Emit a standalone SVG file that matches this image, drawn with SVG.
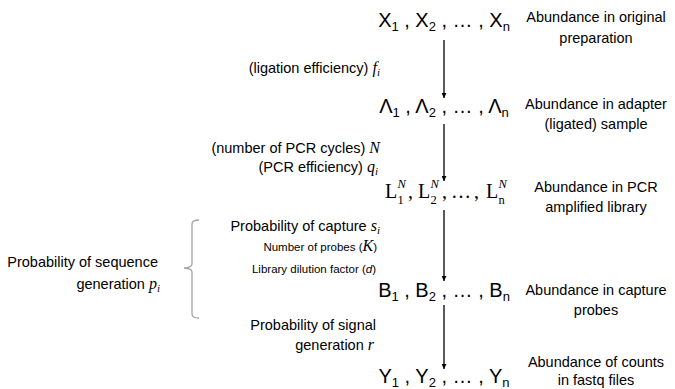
<svg xmlns="http://www.w3.org/2000/svg" width="675" height="389" viewBox="0 0 675 389">
<style>
text{font-family:"Liberation Sans",Arial,sans-serif;fill:#000}
.m{font-size:20px}
.sb{font-size:13px}
.lr{font-family:"Liberation Serif","Times New Roman",serif;font-size:20px}
.lsub{font-family:"Liberation Serif","Times New Roman",serif;font-size:12.5px}
.lsup{font-family:"Liberation Serif","Times New Roman",serif;font-size:12.5px;font-style:italic}
.r{font-size:14.5px;text-anchor:middle}
.l{font-size:14.5px;text-anchor:end}
.s{font-size:11.5px;text-anchor:end}
.mi{font-family:"Liberation Serif","Times New Roman",serif;font-style:italic;font-size:16px}
.mis{font-family:"Liberation Serif","Times New Roman",serif;font-style:italic;font-size:11px}
.arr{stroke:#000;stroke-width:1.3;fill:none;marker-end:url(#ah)}
.br{stroke:#a6a6a6;stroke-width:1.3;fill:none}
</style>
<defs>
<marker id="ah" viewBox="0 0 10 10" refX="10" refY="5" markerWidth="5" markerHeight="5" orient="auto" markerUnits="userSpaceOnUse">
<path d="M0,0 L10,5 L0,10 z" fill="#000"/>
</marker>
</defs>
<g id="connectors">
<line class="arr" x1="444" y1="40" x2="444" y2="98"/>
<line class="arr" x1="444" y1="124" x2="444" y2="181"/>
<line class="arr" x1="444" y1="210" x2="444" y2="281"/>
<line class="arr" x1="444" y1="305" x2="444" y2="369"/>
</g>
<g id="brace">
<path class="br" d="M199,220 Q192,220 192,224 L192,264 Q192,267.5 184,268 Q192,268.5 192,272 L192,314 Q192,318 199,318"/>
</g>
<g id="node-x">
<text class="m" x="444" y="27" text-anchor="middle">X<tspan class="sb" dy="4">1</tspan><tspan dy="-4"> , X</tspan><tspan class="sb" dy="4">2</tspan><tspan dy="-4"> , … , X</tspan><tspan class="sb" dy="4">n</tspan></text>
<text class="r" x="596" y="22">Abundance in original</text>
<text class="r" x="596" y="43">preparation</text>
</g>
<g id="node-lambda">
<text class="m" x="444" y="113" text-anchor="middle">Λ<tspan class="sb" dy="4">1</tspan><tspan dy="-4"> , Λ</tspan><tspan class="sb" dy="4">2</tspan><tspan dy="-4"> , … , Λ</tspan><tspan class="sb" dy="4">n</tspan></text>
<text class="r" x="596" y="109">Abundance in adapter</text>
<text class="r" x="596" y="129">(ligated) sample</text>
</g>
<g id="node-l">
<text class="lr" x="385" y="198">L</text>
<text class="lsup" x="397.5" y="187.5">N</text>
<text class="lsub" x="397.5" y="203.5">1</text>
<text class="lr" x="408" y="198">,</text>
<text class="lr" x="418" y="198">L</text>
<text class="lsup" x="430.5" y="187.5">N</text>
<text class="lsub" x="430.5" y="203.5">2</text>
<text class="lr" x="442" y="198">,</text>
<text class="lr" x="451" y="198">…</text>
<text class="lr" x="474" y="198">,</text>
<text class="lr" x="486" y="198">L</text>
<text class="lsup" x="498.5" y="187.5">N</text>
<text class="lsub" x="498.5" y="203.5">n</text>
<text class="r" x="596" y="192">Abundance in PCR</text>
<text class="r" x="596" y="212">amplified library</text>
</g>
<g id="node-b">
<text class="m" x="444" y="297" text-anchor="middle">B<tspan class="sb" dy="4">1</tspan><tspan dy="-4"> , B</tspan><tspan class="sb" dy="4">2</tspan><tspan dy="-4"> , … , B</tspan><tspan class="sb" dy="4">n</tspan></text>
<text class="r" x="596" y="295">Abundance in capture</text>
<text class="r" x="596" y="315">probes</text>
</g>
<g id="node-y">
<text class="m" x="444" y="383" text-anchor="middle">Y<tspan class="sb" dy="4">1</tspan><tspan dy="-4"> , Y</tspan><tspan class="sb" dy="4">2</tspan><tspan dy="-4"> , … , Y</tspan><tspan class="sb" dy="4">n</tspan></text>
<text class="r" x="596" y="367">Abundance of counts</text>
<text class="r" x="596" y="385">in fastq files</text>
</g>
<g id="label-ligation">
<text class="l" x="380" y="73">(ligation efficiency) <tspan class="mi">f</tspan><tspan class="mis" dy="3">i</tspan></text>
</g>
<g id="label-pcr">
<text class="l" x="380" y="153">(number of PCR cycles) <tspan class="mi">N</tspan></text>
<text class="l" x="378" y="172">(PCR efficiency) <tspan class="mi">q</tspan><tspan class="mis" dy="3">i</tspan></text>
</g>
<g id="label-capture">
<text class="l" x="380" y="231">Probability of capture <tspan class="mi">s</tspan><tspan class="mis" dy="3">i</tspan></text>
<text class="s" x="377" y="251">Number of probes (<tspan class="mi" font-size="12">K</tspan>)</text>
<text class="s" x="376" y="273">Library dilution factor (<tspan font-style="italic">d</tspan>)</text>
</g>
<g id="label-signal">
<text class="l" x="376" y="330">Probability of signal</text>
<text class="l" x="374" y="350">generation <tspan class="mi">r</tspan></text>
</g>
<g id="label-sequence">
<text class="l" x="158" y="267">Probability of sequence</text>
<text class="l" x="160" y="289">generation <tspan class="mi">p</tspan><tspan class="mis" dy="3">i</tspan></text>
</g>
</svg>
